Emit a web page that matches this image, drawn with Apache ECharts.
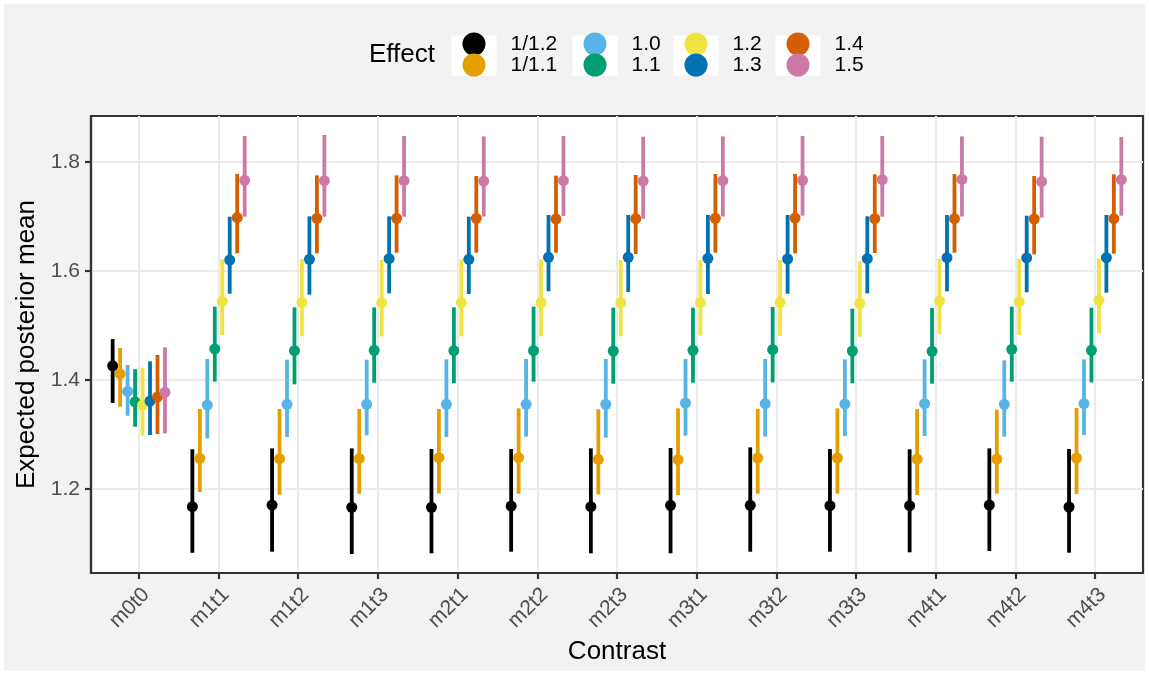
<!DOCTYPE html>
<html><head><meta charset="utf-8">
<script src="https://cdn.jsdelivr.net/npm/echarts@6/dist/echarts.min.js"></script>
<style>html,body{margin:0;padding:0;background:#fff}#c{width:1149px;height:675px}</style>
</head><body><div id="c"></div>
<script>
const categories = ['m0t0','m1t1','m1t2','m1t3','m2t1','m2t2','m2t3','m3t1','m3t2','m3t3','m4t1','m4t2','m4t3'];
const effects = ['1/1.2','1/1.1','1.0','1.1','1.2','1.3','1.4','1.5'];
const colors = ['#000000','#E69F00','#56B4E9','#009E73','#F0E442','#0072B2','#D55E00','#CC79A7'];
const yTicks = [1.2, 1.4, 1.6, 1.8];

// rows follow effects, columns follow categories
const means = [
  [1.426, 1.1675, 1.1706, 1.1664, 1.1664, 1.1688, 1.1676, 1.1700, 1.1700, 1.1694, 1.1694, 1.1706, 1.1670],
  [1.411, 1.2563, 1.2557, 1.2557, 1.2575, 1.2575, 1.2544, 1.2538, 1.2569, 1.2569, 1.2550, 1.2550, 1.2569],
  [1.379, 1.3540, 1.3554, 1.3554, 1.3554, 1.3554, 1.3554, 1.3578, 1.3566, 1.3560, 1.3566, 1.3554, 1.3566],
  [1.360, 1.4570, 1.4538, 1.4544, 1.4538, 1.4538, 1.4532, 1.4544, 1.4557, 1.4532, 1.4526, 1.4563, 1.4544],
  [1.354, 1.5444, 1.5425, 1.5419, 1.5419, 1.5419, 1.5419, 1.5419, 1.5425, 1.5407, 1.5450, 1.5437, 1.5462],
  [1.3615, 1.6200, 1.6214, 1.6226, 1.6214, 1.6251, 1.6251, 1.6232, 1.6220, 1.6226, 1.6245, 1.6239, 1.6245],
  [1.3688, 1.6980, 1.6966, 1.6966, 1.6966, 1.6954, 1.6960, 1.6966, 1.6972, 1.6960, 1.6960, 1.6954, 1.6960],
  [1.3774, 1.7664, 1.7657, 1.7657, 1.7650, 1.7657, 1.7651, 1.7660, 1.7664, 1.7676, 1.7680, 1.7639, 1.7676]
];
const lowers = [
  [1.358, 1.0830, 1.0850, 1.0807, 1.0820, 1.0850, 1.0820, 1.0820, 1.0850, 1.0850, 1.0838, 1.0862, 1.0832],
  [1.351, 1.1945, 1.1896, 1.1914, 1.1920, 1.1914, 1.1902, 1.1890, 1.1914, 1.1914, 1.1890, 1.1914, 1.1908],
  [1.3345, 1.2930, 1.2954, 1.2985, 1.2954, 1.2960, 1.2942, 1.2979, 1.2960, 1.2972, 1.2972, 1.2960, 1.2991],
  [1.3143, 1.3970, 1.3920, 1.3951, 1.3939, 1.3969, 1.3933, 1.3951, 1.3957, 1.3939, 1.3933, 1.3969, 1.3957],
  [1.2978, 1.4826, 1.4802, 1.4801, 1.4801, 1.4801, 1.4801, 1.4813, 1.4807, 1.4795, 1.4844, 1.4826, 1.4856],
  [1.299, 1.5584, 1.5566, 1.5590, 1.5578, 1.5627, 1.5615, 1.5578, 1.5584, 1.5590, 1.5627, 1.5609, 1.5602],
  [1.3009, 1.6325, 1.6324, 1.6336, 1.6336, 1.6336, 1.6312, 1.6336, 1.6324, 1.6330, 1.6336, 1.6306, 1.6318],
  [1.302, 1.6997, 1.6997, 1.6997, 1.7000, 1.7009, 1.6960, 1.7000, 1.7015, 1.6997, 1.7000, 1.6979, 1.7015]
];
const uppers = [
  [1.475, 1.2730, 1.2746, 1.2746, 1.2734, 1.2734, 1.2746, 1.2752, 1.2764, 1.2734, 1.2728, 1.2746, 1.2734],
  [1.459, 1.3470, 1.3468, 1.3468, 1.3468, 1.3480, 1.3462, 1.3480, 1.3474, 1.3480, 1.3468, 1.3456, 1.3486],
  [1.4275, 1.4385, 1.4373, 1.4373, 1.4379, 1.4385, 1.4385, 1.4385, 1.4385, 1.4379, 1.4379, 1.4361, 1.4379],
  [1.420, 1.5346, 1.5333, 1.5333, 1.5333, 1.5346, 1.5327, 1.5327, 1.5339, 1.5309, 1.5321, 1.5346, 1.5327],
  [1.4226, 1.6214, 1.6220, 1.6202, 1.6208, 1.6214, 1.6202, 1.6202, 1.6202, 1.6177, 1.6220, 1.6220, 1.6232],
  [1.4343, 1.6997, 1.7003, 1.7003, 1.6997, 1.7028, 1.7028, 1.7028, 1.7028, 1.7003, 1.7028, 1.7015, 1.7028],
  [1.4459, 1.7780, 1.7755, 1.7755, 1.7743, 1.7749, 1.7761, 1.7780, 1.7780, 1.7774, 1.7780, 1.7743, 1.7774],
  [1.460, 1.8477, 1.8495, 1.8477, 1.8470, 1.8477, 1.8465, 1.8470, 1.8477, 1.8477, 1.8470, 1.8465, 1.8459]
];

const FONT = '"Liberation Sans", Arial, Helvetica, sans-serif';
const DODGE = 0.75;
const catIdx = categories.map((c, i) => i);

function renderItem(params, api) {
  const x = api.value(0);
  const pm = api.coord([x, api.value(1)]);
  const pl = api.coord([x, api.value(2)]);
  const ph = api.coord([x, api.value(3)]);
  const color = api.visual('color');
  return {
    type: 'group',
    children: [
      { type: 'line', shape: { x1: pl[0], y1: pl[1], x2: ph[0], y2: ph[1] }, style: { stroke: color, lineWidth: 3.8 } },
      { type: 'circle', shape: { cx: pm[0], cy: pm[1], r: 5.5 }, style: { fill: color } }
    ]
  };
}

const series = effects.map((e, k) => ({
  type: 'custom',
  name: e,
  itemStyle: { color: colors[k] },
  renderItem: renderItem,
  encode: { x: 0, y: [1, 2, 3] },
  silent: true,
  data: categories.map((c, i) => [i + (k - (effects.length - 1) / 2) * DODGE / effects.length, means[k][i], lowers[k][i], uppers[k][i]])
}));

const circleX = [474, 595, 696, 798];
const legends = circleX.map((cx, c) => ({
  data: effects.slice(c * 2, c * 2 + 2),
  orient: 'vertical',
  left: cx - 11.5, top: 32.5,
  itemWidth: 23, itemHeight: 23, itemGap: -2,
  icon: 'circle', padding: 0, selectedMode: false,
  textStyle: { fontSize: 21, color: '#000', fontFamily: FONT, padding: [0, 0, 0, 20] }
}));

const graphics = [
  { type: 'rect', z: -100, shape: { x: 4, y: 4, width: 1141, height: 667 }, style: { fill: '#f2f2f2' } },
  { type: 'text', z: 10, style: { text: 'Effect', x: 369, y: 55, verticalAlign: 'middle', font: '26px ' + FONT, fill: '#000' } }
].concat(circleX.map(cx => ({ type: 'rect', z: -50, shape: { x: cx - 22.5, y: 35.5, width: 45, height: 40.5 }, style: { fill: '#fff' } })));

const chart = echarts.init(document.getElementById('c'), null, { renderer: 'canvas' });
chart.setOption({
  animation: false,
  backgroundColor: '#fff',
  textStyle: { fontFamily: FONT },
  graphic: graphics,
  legend: legends,
  grid: { left: 91, right: 6, top: 116, bottom: 102, show: true, backgroundColor: '#fff', borderColor: '#333', borderWidth: 2.2, containLabel: false },
  xAxis: {
    type: 'value', min: -0.6, max: 12.6,
    name: 'Contrast', nameLocation: 'middle', nameGap: 65,
    nameTextStyle: { fontSize: 26, color: '#000', fontFamily: FONT },
    axisLine: { show: true, onZero: false, lineStyle: { color: '#333', width: 2.2 } },
    axisTick: { show: true, length: 6, customValues: catIdx, lineStyle: { color: '#333', width: 2.2 } },
    axisLabel: { customValues: catIdx, formatter: v => categories[Math.round(v)], rotate: 45, align: 'right', verticalAlign: 'top', margin: 11, fontSize: 21, color: '#4d4d4d', fontFamily: FONT },
    splitLine: { show: true, lineStyle: { color: '#ebebeb', width: 2 } }
  },
  yAxis: {
    type: 'value', min: 1.0459, max: 1.8844,
    name: 'Expected posterior mean', nameLocation: 'middle', nameGap: 47,
    nameTextStyle: { fontSize: 26, color: '#000', fontFamily: FONT },
    axisLine: { show: true, onZero: false, lineStyle: { color: '#333', width: 2.2 } },
    axisTick: { show: true, length: 6, customValues: yTicks, lineStyle: { color: '#333', width: 2.2 } },
    axisLabel: { customValues: yTicks, formatter: v => v.toFixed(1), margin: 11, fontSize: 21, color: '#4d4d4d', fontFamily: FONT },
    splitLine: { show: true, lineStyle: { color: '#ebebeb', width: 2 } }
  },
  series: series
});
</script></body></html>
